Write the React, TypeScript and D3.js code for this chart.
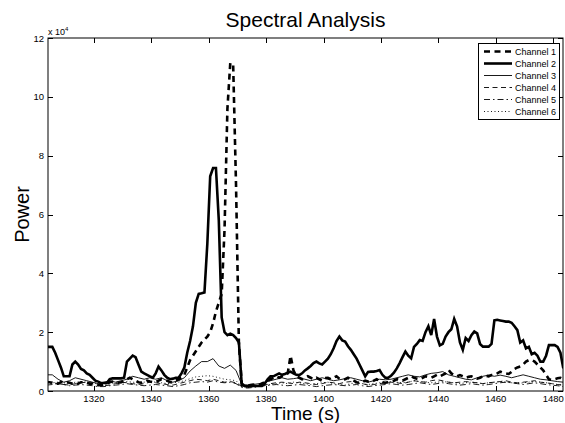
import React, { useRef, useEffect } from "react";
import * as d3 from "d3";

// power values are in units of 10^4 (matches the "x 10^4" axis note)
const channelNames = ["Channel 1", "Channel 2", "Channel 3", "Channel 4", "Channel 5", "Channel 6"];
const xTicks = [1320, 1340, 1360, 1380, 1400, 1420, 1440, 1460, 1480];
const yTicks = [0, 2, 4, 6, 8, 10, 12];

// 1 s samples
const fineStart = 1303.5;
const ch1 = [
  0.3, 0.3, 0.28, 0.25, 0.25, 0.3, 0.32, 0.3,
  0.28, 0.25, 0.22, 0.25, 0.3, 0.3, 0.28, 0.25, 0.25, 0.22,
  0.2, 0.2, 0.22, 0.25, 0.3, 0.32, 0.3, 0.28, 0.3, 0.35,
  0.4, 0.45, 0.4, 0.35, 0.3, 0.28, 0.3, 0.35, 0.32, 0.3,
  0.3, 0.35, 0.4, 0.38, 0.35, 0.3, 0.3, 0.35, 0.4, 0.45,
  0.55, 0.8, 1.05, 1.2, 1.35, 1.5, 1.65, 1.75, 1.85, 2.0,
  2.3, 2.7, 3.0, 3.3, 5.5, 9.6, 11.15, 11.1, 7.0, 1.6,
  0.25, 0.18, 0.18, 0.2, 0.22, 0.2, 0.2, 0.25, 0.3, 0.35,
  0.4, 0.45, 0.5, 0.45, 0.5, 0.55, 0.6, 1.2, 0.7, 0.5,
  0.45, 0.4, 0.45, 0.5, 0.45, 0.4, 0.45, 0.4, 0.35, 0.44,
  0.45, 0.4, 0.45, 0.5, 0.42, 0.38, 0.4, 0.45, 0.4, 0.35,
  0.3, 0.28, 0.3, 0.35, 0.32, 0.3, 0.35, 0.4, 0.35, 0.3,
  0.28, 0.3, 0.32, 0.35, 0.4, 0.38, 0.35, 0.4, 0.45, 0.5,
  0.45, 0.42, 0.4, 0.45, 0.5, 0.48, 0.45, 0.5, 0.55, 0.5,
  0.55, 0.6, 0.72, 0.6, 0.55, 0.5, 0.54, 0.5, 0.45, 0.48,
  0.5, 0.45, 0.42, 0.45, 0.5, 0.52, 0.5, 0.54, 0.55, 0.6,
  0.66, 0.62, 0.6, 0.58, 0.65, 0.75, 0.8, 0.83, 0.9, 1.0,
  1.05, 1.05, 1.0, 0.9, 0.8, 0.7, 0.55, 0.4, 0.38, 0.4,
  0.43, 0.45, 0.4,
];
const ch2 = [
  1.5, 1.5, 1.5, 1.3, 1.05, 0.8, 0.5, 0.5,
  0.5, 0.9, 1.0, 0.9, 0.75, 0.7, 0.6, 0.55, 0.45, 0.35,
  0.32, 0.27, 0.27, 0.27, 0.4, 0.43, 0.43, 0.43, 0.43, 0.45,
  1.0, 1.1, 1.2, 1.15, 0.9, 0.66, 0.6, 0.55, 0.5, 0.45,
  0.6, 0.83, 0.7, 0.55, 0.45, 0.4, 0.42, 0.45, 0.45, 0.6,
  0.8, 1.3, 1.7, 2.2, 3.0, 3.3, 3.32, 3.35, 5.0, 7.3,
  7.58, 7.58, 5.8, 2.5, 2.0, 1.9, 1.95, 1.9, 1.8, 1.65,
  0.2, 0.17, 0.17, 0.17, 0.17, 0.17, 0.17, 0.17, 0.25, 0.4,
  0.5, 0.5, 0.55, 0.6, 0.55, 0.58, 0.62, 0.66, 0.6, 0.55,
  0.54, 0.6, 0.7, 0.77, 0.85, 0.95, 1.0, 0.94, 0.9, 1.0,
  1.1, 1.25, 1.45, 1.7, 1.85, 1.72, 1.68, 1.52, 1.4, 1.25,
  1.1, 0.9, 0.7, 0.5, 0.65, 0.66, 0.66, 0.68, 0.71, 0.55,
  0.45, 0.45, 0.52, 0.62, 0.77, 0.95, 1.15, 1.34, 1.2, 1.11,
  1.5, 1.6, 1.73, 1.7, 2.0, 2.2, 1.9, 2.45, 1.85, 1.55,
  1.6, 1.85, 2.0, 2.1, 2.45, 2.2, 1.65, 1.4, 1.8, 1.7,
  1.9, 2.02, 1.96, 1.6, 1.51, 1.51, 1.51, 1.6, 2.4, 2.42,
  2.4, 2.38, 2.36, 2.36, 2.32, 2.2, 2.07, 1.65, 1.72, 1.45,
  1.5, 1.25, 1.3, 1.2, 1.0, 1.0, 1.2, 1.56, 1.56, 1.56,
  1.5, 1.3, 0.77,
];

// 2 s samples
const coarseStart = 1303.5;
const ch3 = [
  0.55, 0.55, 0.4, 0.3, 0.35, 0.45, 0.4, 0.35, 0.3, 0.25,
  0.3, 0.35, 0.3, 0.35, 0.4, 0.5, 0.45, 0.4, 0.45, 0.4,
  0.45, 0.35, 0.3, 0.35, 0.45, 0.68, 0.85, 1.0, 1.0, 1.1,
  0.85, 0.77, 0.88, 0.7, 0.22, 0.2, 0.22, 0.25, 0.3, 0.35,
  0.4, 0.45, 0.4, 0.42, 0.45, 0.4, 0.35, 0.4, 0.45, 0.4,
  0.35, 0.38, 0.42, 0.45, 0.4, 0.35, 0.3, 0.35, 0.4, 0.38,
  0.4, 0.45, 0.5, 0.55, 0.5, 0.48, 0.55, 0.6, 0.62, 0.66,
  0.55, 0.5, 0.45, 0.4, 0.38, 0.45, 0.5, 0.54, 0.5, 0.54,
  0.5, 0.45, 0.5, 0.55, 0.5, 0.45, 0.4, 0.38, 0.35, 0.32,
  0.3,
];
const ch4 = [
  0.3, 0.28, 0.25, 0.22, 0.2, 0.25, 0.28, 0.3, 0.25, 0.2,
  0.18, 0.2, 0.25, 0.3, 0.28, 0.25, 0.22, 0.25, 0.3, 0.28,
  0.25, 0.22, 0.2, 0.25, 0.3, 0.35, 0.4, 0.38, 0.35, 0.4,
  0.35, 0.3, 0.32, 0.28, 0.15, 0.12, 0.15, 0.18, 0.2, 0.25,
  0.28, 0.3, 0.28, 0.25, 0.3, 0.28, 0.25, 0.22, 0.25, 0.3,
  0.28, 0.25, 0.3, 0.32, 0.28, 0.25, 0.2, 0.22, 0.25, 0.28,
  0.3, 0.28, 0.25, 0.3, 0.35, 0.32, 0.3, 0.35, 0.38, 0.35,
  0.3, 0.28, 0.3, 0.32, 0.3, 0.28, 0.25, 0.28, 0.3, 0.32,
  0.35, 0.3, 0.28, 0.3, 0.32, 0.35, 0.3, 0.28, 0.25, 0.22,
  0.2,
];
const ch5 = [
  0.2, 0.22, 0.25, 0.22, 0.18, 0.2, 0.22, 0.2, 0.18, 0.15,
  0.15, 0.18, 0.2, 0.22, 0.25, 0.22, 0.2, 0.18, 0.2, 0.22,
  0.2, 0.18, 0.15, 0.18, 0.22, 0.28, 0.3, 0.32, 0.3, 0.35,
  0.3, 0.28, 0.3, 0.25, 0.12, 0.1, 0.12, 0.15, 0.18, 0.2,
  0.22, 0.2, 0.18, 0.2, 0.22, 0.2, 0.18, 0.15, 0.18, 0.2,
  0.22, 0.2, 0.18, 0.2, 0.22, 0.18, 0.15, 0.18, 0.2, 0.22,
  0.25, 0.22, 0.2, 0.22, 0.25, 0.28, 0.25, 0.22, 0.25, 0.28,
  0.25, 0.22, 0.2, 0.22, 0.25, 0.22, 0.2, 0.22, 0.25, 0.28,
  0.3, 0.28, 0.25, 0.22, 0.25, 0.28, 0.25, 0.22, 0.2, 0.18,
  0.15,
];
const ch6 = [
  0.25, 0.28, 0.3, 0.28, 0.25, 0.3, 0.32, 0.3, 0.28, 0.25,
  0.22, 0.25, 0.28, 0.3, 0.32, 0.3, 0.28, 0.3, 0.32, 0.3,
  0.28, 0.25, 0.28, 0.3, 0.35, 0.42, 0.48, 0.5, 0.52, 0.5,
  0.45, 0.4, 0.38, 0.35, 0.15, 0.12, 0.14, 0.18, 0.2, 0.22,
  0.25, 0.28, 0.25, 0.3, 0.28, 0.25, 0.22, 0.25, 0.28, 0.3,
  0.25, 0.22, 0.2, 0.25, 0.28, 0.25, 0.22, 0.25, 0.28, 0.3,
  0.32, 0.3, 0.28, 0.3, 0.35, 0.32, 0.3, 0.28, 0.3, 0.32,
  0.3, 0.28, 0.25, 0.28, 0.3, 0.28, 0.25, 0.28, 0.3, 0.32,
  0.3, 0.28, 0.25, 0.28, 0.3, 0.32, 0.3, 0.28, 0.25, 0.22,
  0.2,
];

const font = "'Liberation Sans', Arial, Helvetica, sans-serif";

const App = () => {
  const svgRef = useRef<SVGSVGElement>(null);

  useEffect(() => {
    const svg = d3.select(svgRef.current);
    svg.selectAll("*").remove();

    const width = 565;
    const height = 423;
    const margin = { top: 38, right: 2, bottom: 32, left: 48 };
    const x0 = margin.left;
    const x1 = width - margin.right;
    const y0 = height - margin.bottom;
    const y1 = margin.top;

    const x = d3.scaleLinear().domain([1304, 1483.4]).range([x0, x1]);
    const y = d3.scaleLinear().domain([0, 12]).range([y0, y1]);

    svg.append("rect").attr("width", width).attr("height", height).attr("fill", "#fff");

    const series = [
      { values: ch1, start: fineStart, step: 1, width: 2.6, dash: "6,4.5" },
      { values: ch2, start: fineStart, step: 1, width: 2.6, dash: null },
      { values: ch3, start: coarseStart, step: 2, width: 0.9, dash: null },
      { values: ch4, start: coarseStart, step: 2, width: 0.9, dash: "5,3.5" },
      { values: ch5, start: coarseStart, step: 2, width: 0.9, dash: "6,3,1.5,3" },
      { values: ch6, start: coarseStart, step: 2, width: 0.9, dash: "1,2.5" },
    ];

    svg
      .append("clipPath")
      .attr("id", "plot-clip")
      .append("rect")
      .attr("x", x0)
      .attr("y", y1)
      .attr("width", x1 - x0)
      .attr("height", y0 - y1);

    const plot = svg.append("g").attr("clip-path", "url(#plot-clip)");

    series.forEach((s) => {
      const line = d3
        .line<number>()
        .x((_, i) => x(s.start + i * s.step))
        .y((d) => y(d));
      plot
        .append("path")
        .datum(s.values)
        .attr("fill", "none")
        .attr("stroke", "#000")
        .attr("stroke-width", s.width)
        .attr("stroke-dasharray", s.dash)
        .attr("d", line);
    });

    // box with inward ticks on all four sides
    const axes = svg.append("g").attr("stroke", "#000").attr("stroke-width", 1);
    axes
      .append("rect")
      .attr("x", x0)
      .attr("y", y1)
      .attr("width", x1 - x0)
      .attr("height", y0 - y1)
      .attr("fill", "none");

    const tickLen = 5;
    xTicks.forEach((t) => {
      const px = Math.round(x(t)) + 0.5;
      axes.append("line").attr("x1", px).attr("x2", px).attr("y1", y0).attr("y2", y0 - tickLen);
      axes.append("line").attr("x1", px).attr("x2", px).attr("y1", y1).attr("y2", y1 + tickLen);
    });
    yTicks.forEach((t) => {
      const py = Math.round(y(t)) + 0.5;
      axes.append("line").attr("x1", x0).attr("x2", x0 + tickLen).attr("y1", py).attr("y2", py);
      axes.append("line").attr("x1", x1).attr("x2", x1 - tickLen).attr("y1", py).attr("y2", py);
    });

    const labels = svg.append("g").attr("font-family", font).attr("fill", "#000");

    labels
      .selectAll(".xt")
      .data(xTicks)
      .join("text")
      .attr("x", (d) => x(d))
      .attr("y", y0 + 11)
      .attr("text-anchor", "middle")
      .attr("font-size", 9.5)
      .text((d) => d);

    labels
      .selectAll(".yt")
      .data(yTicks)
      .join("text")
      .attr("x", x0 - 4)
      .attr("y", (d) => y(d) + 3.5)
      .attr("text-anchor", "end")
      .attr("font-size", 9.5)
      .text((d) => d);

    // exponent note
    const expo = labels.append("text").attr("x", x0).attr("y", y1 - 3).attr("font-size", 9);
    expo.append("tspan").text("x 10");
    expo.append("tspan").attr("font-size", 6).attr("dy", -4).text("4");

    labels
      .append("text")
      .attr("x", (x0 + x1) / 2)
      .attr("y", 27)
      .attr("text-anchor", "middle")
      .attr("font-size", 21)
      .text("Spectral Analysis");

    labels
      .append("text")
      .attr("x", (x0 + x1) / 2)
      .attr("y", 419.5)
      .attr("text-anchor", "middle")
      .attr("font-size", 19)
      .text("Time (s)");

    labels
      .append("text")
      .attr("transform", `translate(29,${(y0 + y1) / 2}) rotate(-90)`)
      .attr("text-anchor", "middle")
      .attr("font-size", 20)
      .text("Power");

    // legend
    const legend = svg.append("g");
    legend
      .append("rect")
      .attr("x", 478.5)
      .attr("y", 43.5)
      .attr("width", 81)
      .attr("height", 76)
      .attr("fill", "#fff")
      .attr("stroke", "#000")
      .attr("stroke-width", 1);

    series.forEach((s, i) => {
      const ly = 51.5 + i * 12;
      legend
        .append("line")
        .attr("x1", 484)
        .attr("x2", 512)
        .attr("y1", ly)
        .attr("y2", ly)
        .attr("stroke", "#000")
        .attr("stroke-width", s.width)
        .attr("stroke-dasharray", s.dash);
      legend
        .append("text")
        .attr("x", 515)
        .attr("y", ly + 3)
        .attr("font-family", font)
        .attr("font-size", 9)
        .text(channelNames[i]);
    });
  }, []);

  return (
    <svg
      ref={svgRef}
      width={565}
      height={423}
      style={{ position: "absolute", left: 0, top: 0 }}
    ></svg>
  );
};

export default App;
